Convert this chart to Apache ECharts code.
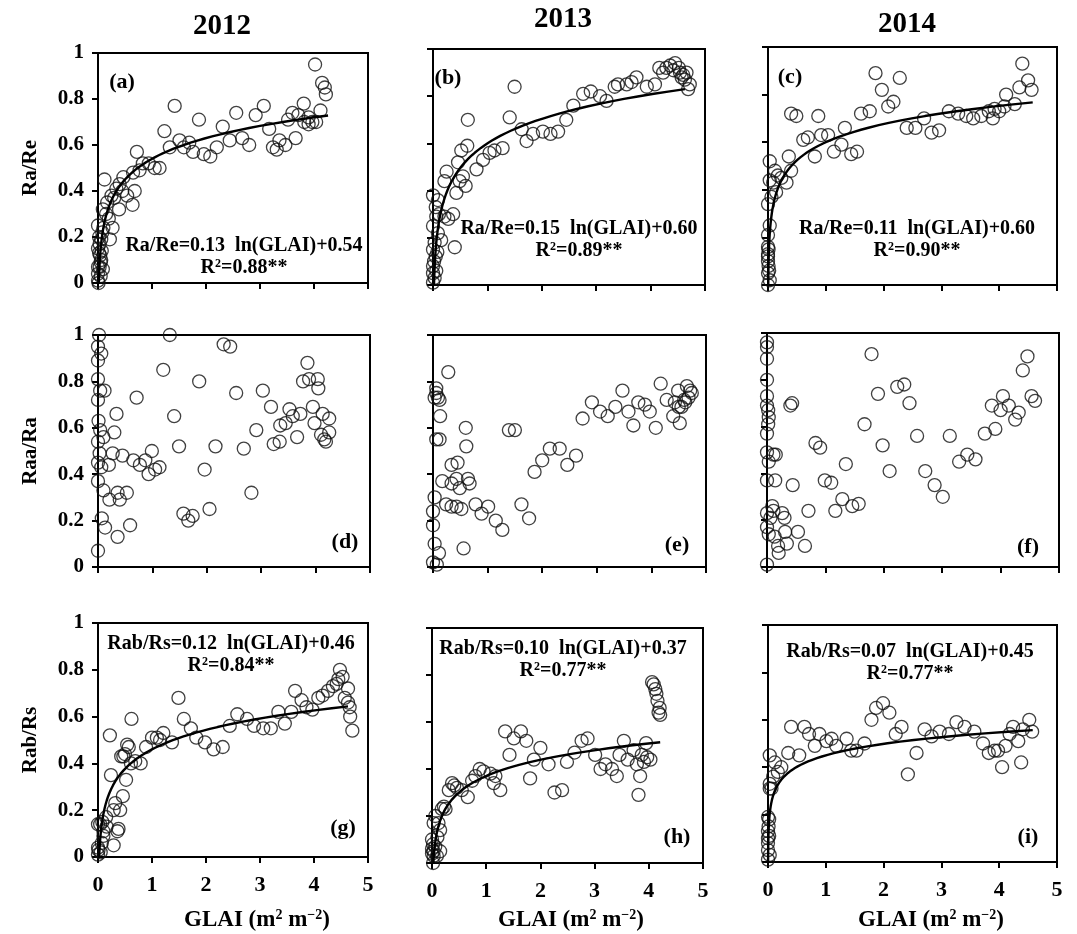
<!DOCTYPE html>
<html>
<head>
<meta charset="utf-8">
<script src="https://cdn.jsdelivr.net/npm/echarts@6/dist/echarts.min.js"></script>
<style>
  html, body { margin: 0; padding: 0; background: #fff; }
  #chart { width: 1077px; height: 934px; }
</style>
</head>
<body>
<div id="chart"></div>
<script>
// ---- data: [GLAI, ratio] ----
const ptsA = [
  [4.02,0.95],[4.15,0.87],[4.2,0.85],[4.22,0.82],[4.12,0.75],[3.81,0.78],[3.6,0.74],[3.52,0.71],
  [3.9,0.72],[3.97,0.7],[3.82,0.7],[3.9,0.69],[4.04,0.7],[3.71,0.73],
  [3.07,0.77],[2.92,0.73],[2.56,0.74],[2.31,0.68],[2.44,0.62],[2.67,0.63],[2.8,0.6],[3.17,0.67],
  [3.24,0.59],[3.31,0.58],[3.36,0.62],[3.47,0.6],[3.66,0.63],[1.87,0.71],[1.42,0.77],[1.23,0.66],
  [1.33,0.59],[1.51,0.62],[1.59,0.59],[1.69,0.61],[1.76,0.57],[1.96,0.56],[2.08,0.55],[2.2,0.59],
  [0.72,0.57],[0.68,0.4],[0.64,0.34],[0.54,0.38],[0.39,0.32],[0.47,0.46],[0.34,0.41],[0.25,0.38],
  [0.12,0.45],[0.17,0.35],[0.27,0.24],[0.22,0.19],[0.1,0.24],[0.09,0.32],[0.06,0.19],[0.0,0.25],
  [0.83,0.52],[0.94,0.52],[1.05,0.5],[1.14,0.5],[0.65,0.48],[0.77,0.49],[0.2,0.28],[0.15,0.3],
  [0.3,0.37],[0.4,0.43],[0.45,0.4],
  [0.0,0.01],[0.0,0.04],[0.03,0.07],[0.06,0.1],[0.02,0.13],[0.0,0.15],[0.03,0.17],[0.07,0.14],
  [0.0,0.07],[0.05,0.03],[0.01,0.0],[0.09,0.06],[0.04,0.12],[0.02,0.2],[0.08,0.22],[0.05,0.09]
];
const ptsB = [
  [4.45,0.94],[4.36,0.93],[4.52,0.92],[4.54,0.9],[4.6,0.89],[4.66,0.9],[4.63,0.87],[4.57,0.88],
  [4.72,0.85],[4.69,0.83],[4.42,0.91],[4.29,0.92],[4.16,0.92],[4.23,0.9],
  [3.93,0.84],[4.08,0.85],[3.74,0.88],[3.65,0.86],[3.56,0.85],[3.4,0.85],[3.34,0.84],[3.19,0.78],
  [3.07,0.8],[2.9,0.82],[2.76,0.81],[2.58,0.76],[2.45,0.7],[2.3,0.65],[2.16,0.64],[2.02,0.65],
  [1.84,0.64],[1.72,0.61],[1.63,0.66],[1.5,0.84],[1.41,0.71],[1.28,0.58],[1.13,0.57],[1.04,0.56],
  [0.92,0.53],[0.8,0.49],[0.64,0.7],[0.63,0.59],[0.52,0.57],[0.46,0.52],[0.55,0.46],[0.49,0.44],
  [0.6,0.42],[0.43,0.39],[0.25,0.48],[0.21,0.44],[0.37,0.3],[0.21,0.29],[0.11,0.3],[0.28,0.28],
  [0.4,0.16],[0.15,0.19],
  [0.0,0.38],[0.09,0.36],[0.05,0.33],[0.06,0.29],[0.0,0.25],[0.09,0.22],[0.03,0.18],[0.0,0.15],
  [0.05,0.12],[0.0,0.08],[0.06,0.06],[0.0,0.05],[0.03,0.03],[0.0,0.01],[0.02,0.1],[0.08,0.14]
];
const ptsC = [
  [4.4,0.93],[4.5,0.86],[4.56,0.82],[4.35,0.83],[4.27,0.76],[4.12,0.8],[4.09,0.75],[4.0,0.73],
  [3.92,0.74],[3.89,0.7],[3.82,0.73],[3.69,0.71],[3.55,0.7],[3.43,0.71],[3.29,0.72],[3.13,0.73],
  [2.96,0.65],[2.83,0.64],[2.7,0.7],[2.55,0.66],[2.4,0.66],[2.28,0.87],[2.17,0.77],[2.08,0.75],
  [1.97,0.82],[1.86,0.89],[1.76,0.73],[1.61,0.72],[1.54,0.56],[1.44,0.55],[1.33,0.66],[1.27,0.59],
  [1.14,0.56],[1.04,0.63],[0.92,0.63],[0.87,0.71],[0.81,0.54],[0.69,0.62],[0.61,0.61],[0.49,0.71],
  [0.4,0.72],[0.4,0.48],[0.36,0.54],[0.32,0.43],[0.23,0.45],[0.17,0.46],[0.12,0.48],[0.03,0.52],
  [0.09,0.43],[0.03,0.44],[0.14,0.39],[0.06,0.37],[0.0,0.34],[0.03,0.25],[0.0,0.21],
  [0.0,0.16],[0.0,0.13],[0.0,0.1],[0.01,0.08],[0.0,0.05],[0.03,0.02],[0.0,0.12],[0.01,0.15],
  [0.0,0.0],[0.02,0.06]
];
const ptsD = [
  [0.02,1.0],[0.0,0.95],[0.06,0.92],[0.0,0.89],[0.0,0.81],[0.04,0.76],[0.12,0.76],[0.0,0.72],
  [0.01,0.63],[0.04,0.59],[0.1,0.56],[0.0,0.54],[0.03,0.49],[0.0,0.45],[0.06,0.43],[0.0,0.37],
  [0.1,0.33],[0.2,0.44],[0.27,0.49],[0.3,0.58],[0.34,0.66],[0.45,0.48],[0.36,0.32],[0.4,0.29],
  [0.53,0.32],[0.21,0.29],[0.07,0.21],[0.13,0.17],[0.36,0.13],[0.59,0.18],[0.0,0.07],
  [0.71,0.73],[0.65,0.46],[0.77,0.44],[0.87,0.46],[0.93,0.4],[0.99,0.5],[1.05,0.42],[1.13,0.43],
  [1.2,0.85],[1.32,1.0],[1.4,0.65],[1.49,0.52],[1.57,0.23],[1.66,0.2],[1.74,0.22],[1.86,0.8],
  [1.96,0.42],[2.05,0.25],[2.16,0.52],[2.31,0.96],[2.43,0.95],[2.54,0.75],[2.68,0.51],[2.82,0.32],
  [2.91,0.59],[3.03,0.76],[3.18,0.69],[3.23,0.53],[3.34,0.54],[3.35,0.61],[3.45,0.62],[3.52,0.68],
  [3.58,0.65],[3.66,0.56],[3.72,0.66],[3.77,0.8],[3.85,0.88],[3.88,0.81],[4.04,0.81],[4.05,0.77],
  [3.95,0.69],[3.98,0.62],[4.13,0.66],[4.25,0.64],[4.1,0.57],[4.16,0.55],[4.19,0.54],[4.25,0.58]
];
const ptsE = [
  [0.28,0.84],[0.06,0.77],[0.09,0.73],[0.03,0.73],[0.12,0.72],[0.06,0.75],[0.13,0.65],[0.06,0.55],
  [0.12,0.55],[0.6,0.6],[0.61,0.52],[0.34,0.44],[0.45,0.45],[0.17,0.37],[0.34,0.36],[0.43,0.38],
  [0.49,0.34],[0.64,0.38],[0.67,0.36],[0.03,0.3],[0.24,0.27],[0.34,0.26],[0.43,0.26],[0.52,0.25],
  [0.78,0.27],[0.89,0.23],[1.01,0.26],[1.15,0.2],[1.27,0.16],[1.62,0.27],[1.76,0.21],[0.56,0.08],
  [0.0,0.24],[0.0,0.18],[0.03,0.1],[0.11,0.06],[0.0,0.02],[0.07,0.01],
  [1.39,0.59],[1.5,0.59],[1.86,0.41],[2.0,0.46],[2.14,0.51],[2.32,0.51],[2.46,0.44],[2.62,0.48],
  [2.74,0.64],[2.91,0.71],[3.06,0.67],[3.2,0.65],[3.34,0.69],[3.47,0.76],[3.58,0.67],[3.67,0.61],
  [3.76,0.71],[3.88,0.7],[3.97,0.67],[4.08,0.6],[4.17,0.79],[4.28,0.72],[4.4,0.65],[4.43,0.71],
  [4.49,0.76],[4.52,0.62],[4.55,0.69],[4.6,0.72],[4.65,0.78],[4.71,0.76],[4.74,0.75],[4.62,0.71],
  [4.68,0.73],[4.5,0.69]
];
const ptsF = [
  [0.0,0.96],[0.0,0.94],[0.0,0.89],[0.0,0.8],[0.0,0.73],[0.0,0.69],[0.02,0.67],[0.03,0.64],
  [0.02,0.61],[0.0,0.57],[0.0,0.49],[0.11,0.48],[0.15,0.48],[0.03,0.45],[0.0,0.37],[0.14,0.37],
  [0.44,0.35],[0.4,0.69],[0.43,0.7],[0.09,0.26],[0.0,0.23],[0.06,0.21],[0.11,0.24],[0.26,0.23],
  [0.3,0.21],[0.0,0.17],[0.03,0.14],[0.13,0.13],[0.19,0.09],[0.2,0.06],[0.34,0.1],[0.31,0.15],
  [0.53,0.15],[0.65,0.09],[0.0,0.01],[0.71,0.24],[0.83,0.53],[0.91,0.51],[0.99,0.37],[1.1,0.36],
  [1.17,0.24],[1.29,0.29],[1.46,0.26],[1.57,0.27],[1.35,0.44],[1.67,0.61],[1.79,0.91],[1.9,0.74],
  [1.98,0.52],[2.1,0.41],[2.23,0.77],[2.35,0.78],[2.44,0.7],[2.57,0.56],[2.71,0.41],[2.87,0.35],
  [3.01,0.3],[3.13,0.56],[3.29,0.45],[3.43,0.48],[3.57,0.46],[3.73,0.57],[3.91,0.59],[3.85,0.69],
  [4.0,0.67],[4.04,0.73],[4.14,0.69],[4.25,0.63],[4.31,0.66],[4.38,0.84],[4.46,0.9],[4.53,0.73],
  [4.59,0.71]
];
const ptsG = [
  [1.49,0.68],[0.62,0.59],[0.22,0.52],[0.54,0.48],[0.57,0.47],[0.5,0.44],[0.47,0.43],[0.43,0.43],
  [0.69,0.41],[0.79,0.4],[0.61,0.4],[0.52,0.33],[0.24,0.35],[0.46,0.26],[0.32,0.23],[0.41,0.2],
  [0.29,0.2],[0.38,0.12],[0.36,0.11],[0.29,0.05],[0.15,0.17],[0.1,0.11],[0.04,0.14],[0.0,0.14],
  [0.0,0.04],[0.07,0.06],[0.01,0.03],[0.1,0.09],[0.16,0.13],[0.0,0.01],[0.05,0.02],[0.08,0.15],
  [0.89,0.47],[1.0,0.51],[1.09,0.51],[1.21,0.53],[1.37,0.49],[1.15,0.5],
  [1.59,0.59],[1.72,0.55],[1.82,0.51],[1.98,0.49],[2.14,0.46],[2.31,0.47],[2.44,0.56],[2.58,0.61],
  [2.76,0.59],[2.89,0.56],[3.06,0.55],[3.2,0.55],[3.34,0.62],[3.46,0.57],[3.58,0.62],[3.65,0.71],
  [3.77,0.67],[3.86,0.64],[3.97,0.63],[4.08,0.68],[4.16,0.69],[4.26,0.71],[4.35,0.73],[4.42,0.74],
  [4.48,0.8],[4.53,0.77],[4.45,0.76],[4.63,0.72],[4.57,0.68],[4.63,0.66],[4.66,0.64],[4.67,0.6],
  [4.71,0.54]
];
const ptsH = [
  [4.06,0.77],[4.09,0.76],[4.12,0.74],[4.14,0.72],[4.16,0.69],[4.2,0.66],[4.21,0.63],[4.18,0.64],
  [1.35,0.56],[1.64,0.56],[1.51,0.53],[1.74,0.52],[1.43,0.46],[1.81,0.36],[2.0,0.49],[1.88,0.44],
  [2.15,0.42],[2.26,0.3],[2.4,0.31],[2.49,0.43],[2.63,0.47],[2.76,0.52],[2.87,0.53],[3.01,0.46],
  [3.11,0.4],[3.2,0.42],[3.32,0.4],[3.41,0.37],[3.46,0.46],[3.54,0.52],[3.61,0.44],[3.72,0.48],
  [3.78,0.42],[3.84,0.37],[3.81,0.29],[3.87,0.46],[3.95,0.51],[3.97,0.45],[4.03,0.44],[3.91,0.43],
  [1.14,0.34],[1.26,0.31],[1.17,0.37],[1.08,0.38],[0.95,0.39],[0.88,0.4],[0.8,0.37],[0.74,0.35],
  [0.66,0.28],[0.55,0.31],[0.46,0.32],[0.37,0.34],[0.31,0.31],[0.41,0.33],[0.22,0.24],[0.18,0.23],
  [0.25,0.23],[0.12,0.17],[0.15,0.14],[0.06,0.2],[0.03,0.17],
  [0.0,0.1],[0.02,0.08],[0.06,0.07],[0.03,0.05],[0.0,0.04],[0.03,0.03],[0.09,0.03],[0.15,0.05],
  [0.02,0.0],[0.0,0.06],[0.1,0.11]
];
const ptsI = [
  [1.99,0.67],[1.87,0.65],[1.79,0.6],[2.1,0.63],[2.31,0.57],[2.21,0.54],[2.42,0.37],[2.57,0.46],
  [2.71,0.56],[2.83,0.53],[2.97,0.55],[3.13,0.54],[3.26,0.59],[3.4,0.57],[3.57,0.55],[3.72,0.5],
  [3.82,0.46],[3.92,0.47],[3.98,0.47],[4.05,0.4],[4.11,0.49],[4.18,0.54],[4.24,0.57],[4.33,0.51],
  [4.38,0.42],[4.41,0.56],[4.52,0.6],[4.57,0.55],
  [0.4,0.57],[0.63,0.57],[0.71,0.54],[0.81,0.49],[0.89,0.54],[1.01,0.51],[1.1,0.52],[1.18,0.49],
  [1.36,0.52],[1.44,0.47],[1.53,0.47],[1.67,0.5],[0.35,0.46],[0.54,0.45],[0.03,0.45],[0.12,0.42],
  [0.23,0.4],[0.17,0.38],[0.09,0.36],[0.03,0.33],[0.03,0.31],[0.06,0.31],
  [0.0,0.19],[0.02,0.18],[0.0,0.13],[0.02,0.11],[0.0,0.08],[0.0,0.05],[0.03,0.03],[0.0,0.01],
  [0.01,0.15],[0.0,0.1]
];

// fitted curves y = k ln(GLAI) + c, drawn up to the last GLAI shown
const fitA = [0.13, 0.54, 4.26];
const fitB = [0.15, 0.60, 4.63];
const fitC = [0.11, 0.60, 4.58];
const fitG = [0.12, 0.46, 4.63];
const fitH = [0.10, 0.37, 4.21];
const fitI = [0.07, 0.45, 4.58];

const years = ['2012', '2013', '2014'];
const rowNames = ['Ra/Re', 'Raa/Ra', 'Rab/Rs'];
const tags = ['(a)', '(b)', '(c)', '(d)', '(e)', '(f)', '(g)', '(h)', '(i)'];
const eqTexts = [
  'Ra/Re=0.13  ln(GLAI)+0.54', 'Ra/Re=0.15  ln(GLAI)+0.60', 'Ra/Re=0.11  ln(GLAI)+0.60',
  null, null, null,
  'Rab/Rs=0.12  ln(GLAI)+0.46', 'Rab/Rs=0.10  ln(GLAI)+0.37', 'Rab/Rs=0.07  ln(GLAI)+0.45'
];
const r2Texts = ['0.88**', '0.89**', '0.90**', null, null, null, '0.84**', '0.77**', '0.77**'];
const xTicks = [0, 5, 1];
const yTicks = [0, 1, 0.2];

const allPts = [ptsA, ptsB, ptsC, ptsD, ptsE, ptsF, ptsG, ptsH, ptsI];
const allFits = [fitA, fitB, fitC, null, null, null, fitG, fitH, fitI];

// ---- layout ----
const FONT = '"Liberation Serif", "Times New Roman", serif';
const boxes = [
  [98, 53, 270, 230], [433, 49, 272, 236], [768, 47, 289, 238],
  [98, 335, 272, 232], [433, 335, 273, 232], [767, 333, 292, 234],
  [98, 623, 270, 234], [432, 628, 271, 235], [768, 625, 289, 237]
];
const yearAt = [[222, 27], [563, 20], [907, 25]];
const tagAt = [[122, 82], [448, 78], [790, 77], [345, 542], [677, 545], [1028, 547],
  [343, 828], [677, 837], [1028, 837]];
const eqAt = [[244, 246], [579, 229], [917, 229], null, null, null,
  [231, 644], [563, 649], [910, 652]];
const xNameAt = [[257, 920], [571, 920], [931, 920]];

const chart = echarts.init(document.getElementById('chart'));

const grid = [], xAxis = [], yAxis = [], series = [], graphic = [];

function curve(fit) {
  const k = fit[0], c = fit[1], xEnd = fit[2];
  const x0 = Math.exp(-c / k);
  const out = [];
  const n = 80;
  for (let j = 0; j <= n; j++) {
    const x = x0 * Math.pow(xEnd / x0, j / n);
    out.push([x, Math.max(0, k * Math.log(x) + c)]);
  }
  return out;
}

function text(x, y, str, size, rich) {
  return {
    type: 'text', x: x, y: y, z: 100,
    style: {
      text: str, fontFamily: FONT, fontWeight: 'bold', fontSize: size, fill: '#000',
      align: 'center', verticalAlign: 'middle',
      textAlign: 'center', textVerticalAlign: 'middle',
      rich: rich
    }
  };
}

function richSup(size) {
  return {
    n: { fontFamily: FONT, fontWeight: 'bold', fontSize: size, fill: '#000', color: '#000' },
    s: { fontFamily: FONT, fontWeight: 'bold', fontSize: Math.round(size * 0.62), fill: '#000', color: '#000', verticalAlign: 'top' }
  };
}

for (let i = 0; i < 9; i++) {
  const row = Math.floor(i / 3), col = i % 3;
  const b = boxes[i];
  grid.push({
    left: b[0], top: b[1], width: b[2], height: b[3],
    show: true, borderColor: '#000', borderWidth: 2, backgroundColor: 'transparent'
  });
  xAxis.push({
    gridIndex: i, type: 'value', min: xTicks[0], max: xTicks[1], interval: xTicks[2],
    axisLine: { show: true, onZero: false, lineStyle: { color: '#000', width: 2 } },
    axisTick: { show: true, inside: false, length: 6, lineStyle: { color: '#000', width: 2 } },
    axisLabel: { show: row === 2, margin: 17, color: '#000', fontFamily: FONT, fontWeight: 'bold', fontSize: 22 },
    splitLine: { show: false }
  });
  yAxis.push({
    gridIndex: i, type: 'value', min: yTicks[0], max: yTicks[1], interval: yTicks[2],
    name: col === 0 ? rowNames[row] : '',
    nameLocation: 'middle', nameRotate: 90, nameGap: 57,
    nameTextStyle: { color: '#000', fontFamily: FONT, fontWeight: 'bold', fontSize: 21 },
    axisLine: { show: true, onZero: false, lineStyle: { color: '#000', width: 2 } },
    axisTick: { show: true, inside: false, length: 6, lineStyle: { color: '#000', width: 2 } },
    axisLabel: { show: col === 0, margin: 14, color: '#000', fontFamily: FONT, fontWeight: 'bold', fontSize: 21 },
    splitLine: { show: false }
  });
  series.push({
    type: 'scatter', xAxisIndex: i, yAxisIndex: i, data: allPts[i],
    symbol: 'circle', symbolSize: 13, clip: false,
    itemStyle: { color: 'rgba(0,0,0,0)', borderColor: '#111', borderWidth: 1.3 }
  });
  if (allFits[i]) {
    series.push({
      type: 'line', xAxisIndex: i, yAxisIndex: i, data: curve(allFits[i]),
      showSymbol: false, smooth: false, z: 3,
      lineStyle: { color: '#000', width: 2.4 }
    });
  }
  graphic.push(text(tagAt[i][0], tagAt[i][1], tags[i], 22));
  if (eqTexts[i]) {
    graphic.push(text(eqAt[i][0], eqAt[i][1], '{n|' + eqTexts[i] + '}', 20, richSup(20)));
    graphic.push(text(eqAt[i][0], eqAt[i][1] + 22, '{n|R}{s|2}{n|=' + r2Texts[i] + '}', 20, richSup(20)));
  }
}

for (let c = 0; c < 3; c++) {
  graphic.push(text(yearAt[c][0], yearAt[c][1], years[c], 29));
  graphic.push(text(xNameAt[c][0], xNameAt[c][1], '{n|GLAI (m}{s|2}{n| m}{s|\u22122}{n|)}', 23, richSup(23)));
}

chart.setOption({
  backgroundColor: '#fff',
  animation: false,
  grid: grid,
  xAxis: xAxis,
  yAxis: yAxis,
  series: series,
  graphic: graphic
});
</script>
</body>
</html>
